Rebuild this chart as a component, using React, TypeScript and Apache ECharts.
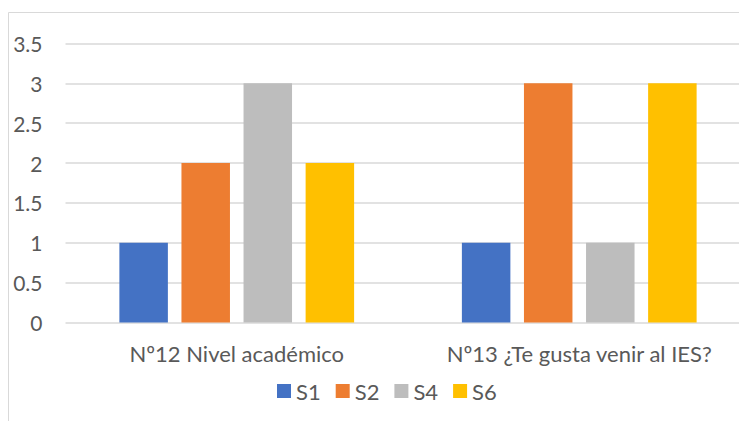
import React, { useEffect, useRef } from "react";
import * as echarts from "echarts";

const categories = ["Nº12 Nivel académico", "Nº13 ¿Te gusta venir al IES?"];
const seriesNames = ["S1", "S2", "S4", "S6"];
const s1Values = [1, 1];
const s2Values = [2, 3];
const s4Values = [3, 1];
const s6Values = [2, 3];
const seriesColors = ["#4472C4", "#ED7D31", "#BDBDBD", "#FFC000"];

const FONT = "Lato";
const TEXT = "#595959";

export default function App() {
  const ref = useRef<HTMLDivElement>(null);

  useEffect(() => {
    if (!ref.current) return;
    const chart = echarts.init(ref.current, undefined, { renderer: "svg" });
    const values = [s1Values, s2Values, s4Values, s6Values];
    chart.setOption({
      animation: false,
      backgroundColor: "#ffffff",
      textStyle: { fontFamily: FONT },
      graphic: [
        {
          type: "rect",
          shape: { x: 8.5, y: 12.5, width: 900, height: 600 },
          style: { fill: "none", stroke: "#D9D9D9", lineWidth: 1 },
          silent: true,
        },
      ],
      grid: {
        left: 65.5,
        top: 43.5,
        width: 685,
        height: 279,
        outerBoundsMode: "none",
        containLabel: false,
      },
      legend: {
        data: seriesNames,
        left: 272,
        top: 375,
        icon: "rect",
        itemWidth: 14,
        itemHeight: 14,
        itemGap: 15,
        textStyle: { color: TEXT, fontSize: 22, fontFamily: FONT },
      },
      xAxis: {
        type: "category",
        data: categories,
        axisLine: { show: false },
        axisTick: { show: false },
        axisLabel: {
          color: TEXT,
          fontSize: 22,
          fontFamily: FONT,
          margin: 20,
          interval: 0,
          hideOverlap: false,
        },
      },
      yAxis: {
        type: "value",
        min: 0,
        max: 3.5,
        interval: 0.5,
        axisLine: { show: false },
        axisTick: { show: false },
        axisLabel: { color: TEXT, fontSize: 21, fontFamily: FONT, margin: 23 },
        splitLine: { lineStyle: { color: "#D9D9D9", width: 1.5 } },
      },
      series: seriesNames.map((name, i) => ({
        name,
        type: "bar",
        data: values[i],
        barWidth: 48.5,
        barGap: "28%",
        itemStyle: { color: seriesColors[i] },
      })),
    });
    return () => chart.dispose();
  }, []);

  return (
    <div
      ref={ref}
      style={{ position: "fixed", left: 0, top: 0, width: 739, height: 421 }}
    />
  );
}
